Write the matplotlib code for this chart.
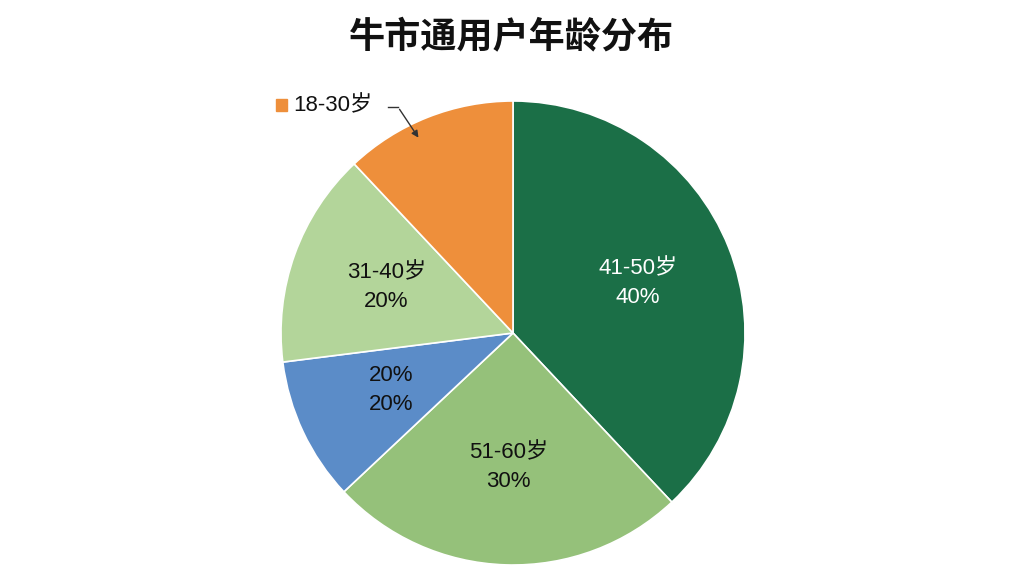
import matplotlib
matplotlib.use("Agg")
import matplotlib.pyplot as plt

plt.rcParams['font.family'] = ['Liberation Sans', 'Noto Sans CJK SC', 'DejaVu Sans']

categories = ["41-50岁", "51-60岁", "20%", "31-40岁", "18-30岁"]
values = [38, 25, 10, 15, 12]
labels = ["41-50岁\n40%", "51-60岁\n30%", "20%\n20%", "31-40岁\n20%", ""]
colors = ["#1b6f47", "#95c17a", "#5b8cc8", "#b3d59a", "#ee8f3b"]
text_colors = ["white", "#111111", "#111111", "#111111", "#111111"]

R = 232
fig = plt.figure(figsize=(10.24, 5.76), dpi=100)
ax = fig.add_axes([(513 - R) / 1024, (576 - 333 - R) / 576, 2 * R / 1024, 2 * R / 576])
wedges, texts = ax.pie(values, colors=colors, startangle=90, counterclock=False,
                       labels=labels, labeldistance=0.58,
                       wedgeprops=dict(edgecolor="white", linewidth=1.2),
                       textprops=dict(fontsize=16, ha="center", va="center"))
for t, c in zip(texts, text_colors):
    t.set_color(c)
    t.set_linespacing(1.5)
ax.set_aspect("equal")
ax.set_xlim(-1, 1)
ax.set_ylim(-1, 1)

fig.text(0.5, 1 - 38 / 576, "牛市通用户年龄分布", ha="center", va="center", fontsize=26,
         color="#111111", family=['Noto Sans CJK SC'], weight="bold")

# orange legend-like callout
fig.patches.append(plt.Rectangle((276 / 1024, 1 - 111 / 576), 11 / 1024, 12 / 576,
                                 transform=fig.transFigure, color=colors[4]))
fig.text(293 / 1024, 1 - 106 / 576, categories[4], ha="left", va="center", fontsize=16, color="#111111")
fig.add_artist(plt.Line2D([388 / 1024, 398 / 1024], [1 - 107 / 576, 1 - 107 / 576],
                          transform=fig.transFigure, color="#333333", lw=1))
ax.annotate("", xy=(420 / 1024, 1 - 140 / 576), xycoords="figure fraction",
            xytext=(398 / 1024, 1 - 107 / 576), textcoords="figure fraction",
            arrowprops=dict(arrowstyle="-|>", color="#333333", lw=1))

fig.savefig("out.png", dpi=100, facecolor="white")
